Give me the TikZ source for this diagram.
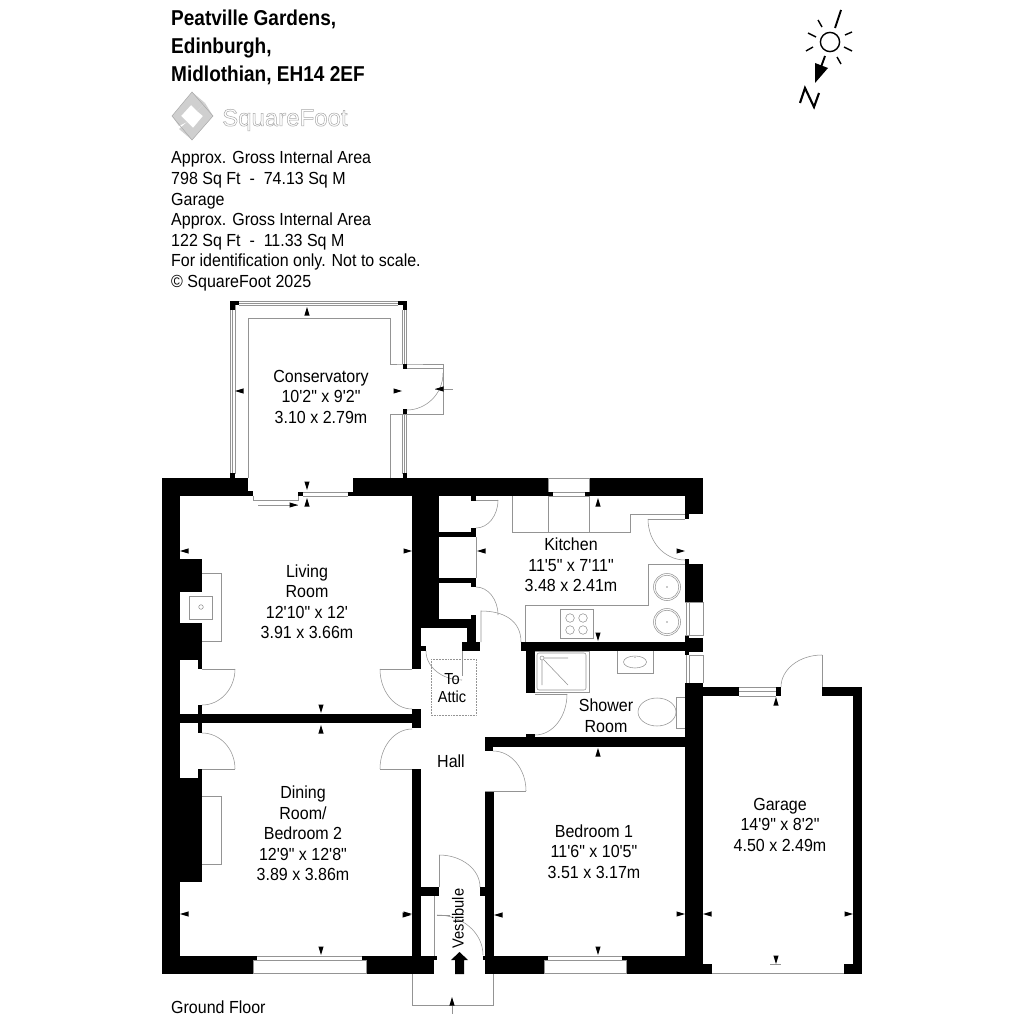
\documentclass[tikz,border=0pt]{standalone}
\usepackage{fontspec}
\newfontfamily\lsans[FakeStretch=0.915]{Liberation Sans}
\newfontfamily\lhead[FakeStretch=0.885]{Liberation Sans}
\newfontfamily\llogo{Liberation Sans}
\definecolor{fineline}{gray}{0.58}
\definecolor{logogrey}{gray}{0.66}
\tikzset{
  fine/.style={draw=fineline,line width=0.55pt},
  dotbox/.style={draw=fineline,line width=0.55pt,densely dotted},
  roomlabel/.style={font=\lsans\fontsize{17.5}{20.5}\selectfont,align=center,inner sep=0pt,text=black},
  smalllabel/.style={font=\lsans\fontsize{16}{18.5}\selectfont,align=center,inner sep=0pt,text=black},
  infotext/.style={font=\lsans\fontsize{17.5}{20.6}\selectfont,align=left,inner sep=0pt,anchor=north west,text=black},
  headtext/.style={font=\lhead\bfseries\fontsize{21.5}{28}\selectfont,align=left,inner sep=0pt,anchor=north west},
  compass/.style={draw=black,line width=1.4pt},
}
\newcommand{\wall}[4]{\fill[black] (#1,#2) rectangle (#3,#4);}
% quarter ellipse starting with a vertical tangent, ending with a horizontal one
\newcommand{\qarc}[4]{\draw[fine] (#1,#2) .. controls (#1,{#2+0.5523*(#4-#2)}) and ({#3+0.5523*(#1-#3)},#4) .. (#3,#4);}
\newcommand{\aU}[2]{\fill[black] (#1,#2) -- ({#1-2.6},{#2+8.5}) -- ({#1+2.6},{#2+8.5}) -- cycle;}
\newcommand{\aD}[2]{\fill[black] (#1,#2) -- ({#1-2.6},{#2-8.5}) -- ({#1+2.6},{#2-8.5}) -- cycle;}
\newcommand{\aL}[2]{\fill[black] (#1,#2) -- ({#1+8.5},{#2-2.6}) -- ({#1+8.5},{#2+2.6}) -- cycle;}
\newcommand{\aR}[2]{\fill[black] (#1,#2) -- ({#1-8.5},{#2-2.6}) -- ({#1-8.5},{#2+2.6}) -- cycle;}
\begin{document}
\begin{tikzpicture}[x=1pt,y=-1pt]
\useasboundingbox (0,0) rectangle (1024,1024);
\fill[white] (0,0) rectangle (1024,1024);

% --- header text
\node[headtext] (title) at (171,9.5) {Peatville Gardens,\\Edinburgh,\\Midlothian, EH14 2EF};
\node[infotext] (info) at (171,151) {Approx. Gross Internal Area\\798 Sq Ft \ - \ 74.13 Sq M\\Garage\\Approx. Gross Internal Area\\122 Sq Ft \ - \ 11.33 Sq M\\For identification only. Not to scale.\\© SquareFoot 2025};
\node[infotext,anchor=base west] (floor) at (171,1013) {Ground Floor};

% --- logo
\fill[logogrey!55] (172,116) -- (192,92) -- (205,103) -- (197,111) -- (191,105) -- (181,116) -- (187,122) -- (179,126) -- cycle;
\fill[logogrey!55] (213,116) -- (192,140) -- (179,129) -- (187,122) -- (193,128) -- (203,116) -- (197,111) -- (205,103) -- cycle;
\draw[logogrey,line width=0.5pt] (172,116) -- (192,92) -- (213,116) -- (192,140) -- cycle;
\node[inner sep=0pt,anchor=base west,text=logogrey,font=\llogo\fontsize{24}{24}\selectfont] (logo) at (222,126) {\special{pdf:code 1 Tr 0.5 w}SquareFoot\special{pdf:code 0 Tr}};

% --- compass
\draw[compass] (830,42) circle (9.6);
\draw[compass,line width=1.9pt] (835,28) -- (841,10);
\draw[compass] (818,20) -- (822,27) (808,33) -- (816,37) (806,51) -- (813,47)
               (837,57) -- (841,64) (844,47) -- (852,51) (845,35) -- (852,32);
\draw[compass,line width=1.9pt] (825,56) -- (821,67);
\fill[black] (815,63) -- (828,68) -- (815,83) -- cycle;
\draw[compass,line width=2.1pt,line join=miter] (800,103) -- (805,88) -- (814,107) -- (819,93);

% --- conservatory thin work
\draw[fine] (230.5,305) -- (230.5,474) (232.7,305) -- (232.7,474) (234.8,305) -- (234.8,474);
\draw[fine] (235,301.5) -- (402,301.5) (239,303.4) -- (398,303.4) (239,305.4) -- (398,305.4);
\draw[fine] (402.5,310) -- (402.5,364) (404.6,310) -- (404.6,364) (406.7,310) -- (406.7,364);
\draw[fine] (402.5,414) -- (402.5,474) (404.6,414) -- (404.6,474) (406.7,414) -- (406.7,474);
\draw[fine] (248,478) -- (248,318) -- (390,318) -- (390,364) -- (403,364) -- (443,364) -- (443,414) -- (390,414) -- (390,478);
\draw[fine] (407,368.7) -- (443,368.7);
\draw[fine] (253,496) -- (253,500) -- (298,500) -- (298,496);
\draw[fine] (258,505) -- (298,505);
\draw[fine] (303,492) -- (348,492) (303,496) -- (348,496);
\draw[fine] (443,373) .. controls (443,395) and (425,410) .. (407,410);
\draw[fine] (435,389) -- (453,389);
\wall{230}{301}{239}{305}\wall{230}{305}{235}{310}
\wall{398}{301}{407}{305}\wall{403}{305}{407}{310}
\wall{403}{364}{407}{369}\wall{403}{409}{407}{414}
\wall{230}{473}{235}{478}\wall{403}{473}{407}{478}
\aU{307}{307}\aL{235}{391}\aR{402}{391}\aL{435}{389}
\aD{307}{490}\aU{307}{498}\aR{298}{505}

% --- walls
\wall{162}{478}{180}{974}
\wall{162}{478}{248}{496}\wall{248}{491}{253}{496}\wall{298}{492}{303}{496}\wall{348}{492}{353}{496}
\wall{353}{478}{548}{496}\wall{548}{492}{553}{496}\wall{589}{478}{703}{496}\wall{585}{492}{589}{496}
\wall{412}{478}{439}{619}\wall{412}{619}{421}{669}\wall{421}{646}{426}{651}
\wall{421}{619}{476}{628}\wall{471}{615}{476}{619}\wall{467}{628}{476}{642}\wall{462}{642}{480}{651}
\wall{439}{532}{476}{537}\wall{439}{578}{476}{583}
\wall{471}{496}{476}{501}\wall{471}{528}{476}{532}\wall{471}{583}{476}{587}
\wall{685}{496}{703}{514}\wall{685}{514}{689}{519}\wall{685}{559}{689}{564}\wall{685}{564}{703}{602}
\wall{685}{635}{689}{655}\wall{689}{638}{703}{652}\wall{685}{683}{703}{974}
\wall{521}{642}{689}{651}\wall{526}{651}{535}{693}
\wall{485}{737}{685}{747}\wall{485}{747}{493}{751}\wall{526}{734}{535}{737}
\wall{180}{559}{202}{592}\wall{180}{623}{202}{660}\wall{198}{660}{202}{669}\wall{198}{705}{202}{714}
\wall{180}{714}{412}{723}\wall{412}{709}{421}{728}\wall{198}{723}{202}{733}
\wall{198}{769}{202}{778}\wall{180}{778}{202}{882}
\wall{412}{769}{421}{974}\wall{421}{887}{439}{896}\wall{480}{887}{485}{896}\wall{485}{792}{494}{974}
\wall{162}{956}{253}{974}\wall{253}{956}{257}{960}\wall{362}{956}{366}{960}\wall{366}{956}{434}{974}\wall{434}{956}{437}{960}
\wall{483}{956}{485}{960}\wall{485}{956}{544}{974}\wall{544}{956}{548}{960}\wall{622}{956}{626}{960}\wall{626}{956}{703}{974}
\wall{703}{964}{712}{974}
\wall{703}{687}{739}{696}\wall{776}{687}{781}{696}\wall{822}{687}{862}{696}\wall{853}{687}{862}{974}\wall{844}{964}{853}{974}

% --- windows
\draw[fine] (257,956) -- (362,956) (253,960) -- (366,960) (253,973.5) -- (366,973.5) (253,960) -- (253,973.5) (366,960) -- (366,973.5);
\draw[fine] (548,956) -- (622,956) (544,960) -- (626,960) (544,973.5) -- (626,973.5) (544,960) -- (544,973.5) (626,960) -- (626,973.5);
\draw[fine] (553,492) -- (585,492) (548,496) -- (589,496) (548,478) -- (589,478) (548,478) -- (548,492) (589,478) -- (589,492);
\draw[fine] (685,602) -- (703,602) -- (703,635) -- (685,635) (686.5,602) -- (686.5,635) (689,602) -- (689,635);
\draw[fine] (689,655) -- (703,655) -- (703,683) (686.5,655) -- (686.5,683) (689,655) -- (689,683);
\draw[fine] (739,687) -- (776,687) (739,691.5) -- (776,691.5) (739,696) -- (776,696);
\draw[fine] (712,973.5) -- (844,973.5);
\draw[fine] (770,964.5) -- (781,964.5);

% --- doors
\draw[fine] (202,669) -- (235,669); \qarc{235}{669}{202}{705}
\draw[fine] (202,769) -- (235,769); \qarc{235}{769}{202}{733}
\draw[fine] (380,669) -- (412,669); \qarc{380}{669}{412}{709}
\draw[fine] (380,769) -- (412,769); \qarc{380}{769}{412}{729}
\draw[fine] (476,500) -- (498,500); \qarc{498}{500}{476}{528}
\draw[fine] (476,537) -- (476,578);
\qarc{498}{615}{476}{587}
\draw[fine] (521,642) .. controls (521,620) and (503,611) .. (481,611) -- (481,642);
\draw[fine] (462,651) -- (462,676);
\qarc{426}{651}{462}{680}
\draw[fine] (567,694) -- (535,694);
\qarc{567}{694}{535}{735}
\draw[fine] (485,791) -- (526,791); \qarc{526}{791}{493}{751}
\draw[fine] (648,519) -- (685,519); \qarc{648}{519}{685}{560}
\draw[fine] (439,887) -- (439,855); \qarc{480}{887}{439}{855}
\draw[fine] (434,896) -- (434,956) (437,915) -- (450,915);
\qarc{483}{955}{437}{915}
\draw[fine] (822,687) -- (822,655); \qarc{781}{687}{822}{655}

% --- entry
\draw[fine] (412,974) -- (412,1005) -- (493,1005) -- (493,974);
\draw[fine] (452,1003) -- (452,1014);
\aU{452}{997}
\fill[black] (459.5,952) -- (468,960) -- (464,960) -- (464,974) -- (455,974) -- (455,960) -- (451,960) -- cycle;

% --- kitchen units
\draw[fine] (512,496) -- (512,532) -- (630,532) -- (630,514) -- (685,514);
\draw[fine] (548,496) -- (548,532) (589,496) -- (589,532);
\draw[fine] (685,564) -- (648,564) -- (648,605) -- (525,605) -- (525,642);
\draw[fine] (560,609) rectangle (593,638);
\foreach \cx/\cy in {570/618,583/618,570/630,583/630} {\draw[fine] (\cx,\cy) circle (4.3);}
\foreach \cy in {587,622} {
  \draw[fine] (667,\cy) circle (13.5);
  \draw[fine] (667,\cy) circle (11.8);
  \fill[fineline] (667,\cy) circle (0.8);
}

% --- shower room fittings
\draw[fine] (535,651.5) -- (589,651.5) -- (589,692) -- (535,692);
\draw[fine,rounded corners=2pt] (537,653) rectangle (586,690);
\draw[fine] (542,658) circle (2);
\draw[fine] (543.5,659.5) -- (568,685) (544,658) -- (568,658) (542,660) -- (542,685);
\draw[fine] (617,651) -- (617,673) -- (653,673) -- (653,651);
\draw[fine] (635,662) ellipse (11.5 and 6);
\fill[fineline] (635,657.5) circle (0.7);
\draw[fine] (657,712) ellipse (19 and 14);
\draw[fine] (685,697) -- (676,697) -- (676,728) -- (685,728);

% --- hearths
\draw[fine] (202,573) -- (221,573) -- (221,641) -- (202,641);
\draw[fine] (189,596) rectangle (212,619);
\draw[fine] (201,607) circle (2.3);
\draw[fine] (202,796) -- (221,796) -- (221,864) -- (202,864);

% --- attic hatch
\draw[dotbox] (431,659) rectangle (476,715);

% --- dimension arrows
\aL{180}{551}\aR{412}{551}\aD{321}{713}\aU{321}{725}
\aL{180}{914}\aR{412}{914}\aD{321}{955}
\aU{598}{498}\aL{477}{551}\aR{685}{551}\aD{598}{641}
\aU{598}{748}\aL{494}{915}\aR{685}{914}\aD{598}{955}
\aR{411}{915}
\aU{776}{697}\aL{703}{914}\aR{853}{914}\aD{776}{964}

% --- room labels
\node[roomlabel] (conservatory) at (321,396.5) {Conservatory\\10'2" x 9'2"\\3.10 x 2.79m};
\node[roomlabel] (living) at (307,601.5) {Living\\Room\\12'10" x 12'\\3.91 x 3.66m};
\node[roomlabel] (dining) at (303,833.5) {Dining\\Room/\\Bedroom 2\\12'9" x 12'8"\\3.89 x 3.86m};
\node[roomlabel] (kitchen) at (571,565) {Kitchen\\11'5" x 7'11"\\3.48 x 2.41m};
\node[roomlabel] (shower) at (606,715.5) {Shower\\Room};
\node[roomlabel] (bed) at (594,851.5) {Bedroom 1\\11'6" x 10'5"\\3.51 x 3.17m};
\node[roomlabel] (garage) at (780,824.5) {Garage\\14'9" x 8'2"\\4.50 x 2.49m};
\node[roomlabel] (hall) at (451,761) {Hall};
\node[smalllabel] (attic) at (452,688) {To\\Attic};
\node[smalllabel,rotate=90] (vestibule) at (458,918.5) {Vestibule};
\end{tikzpicture}
\end{document}
